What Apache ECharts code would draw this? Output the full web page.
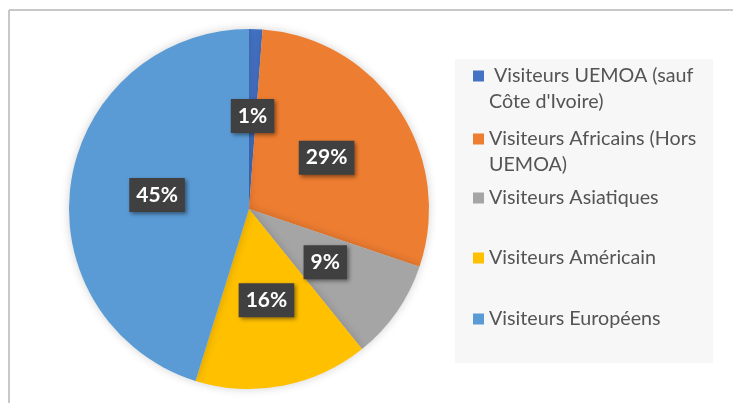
<!DOCTYPE html>
<html style="height: 100%">
<head>
	<meta charset="utf-8">
</head>
<body style="height: 100%; margin: 0; background: #fff">
<div id="container" style="height: 100%"></div>
<script type="text/javascript" src="https://cdn.jsdelivr.net/npm/echarts@6/dist/echarts.min.js"></script>
<script type="text/javascript">
    var categories = [
        " Visiteurs UEMOA (sauf\nCôte d'Ivoire)",
        "Visiteurs Africains (Hors\nUEMOA)",
        "Visiteurs Asiatiques",
        "Visiteurs Américain",
        "Visiteurs Européens"
    ];
    var shares = [1.2, 29.0, 9.0, 15.6, 45.2];
    var colors = ['#4472C4', '#ED7D31', '#A5A5A5', '#FFC000', '#5B9BD5'];

    var dom = document.getElementById("container");
    var myChart = echarts.init(dom);

    var fontFam = 'Lato, "Noto Sans", sans-serif';
    var lineH = 26;
    // icon centre (y) of each legend entry
    var legendY = [76, 139, 198, 258, 319];

    var legends = categories.map(function (name, i) {
        var lines = name.split('\n').length;
        var h = 11 + (lines - 1) * lineH;
        // square sits on the first text line; the tiny dot stretches the icon box
        var icon = 'path://M0,0h11v11h-11zM0,' + (h - 0.1) + 'h0.1v0.1h-0.1z';
        return {
            orient: 'vertical',
            left: 473,
            top: legendY[i] - 13,
            padding: 0,
            itemWidth: 11,
            itemHeight: h,
            icon: icon,
            selectedMode: false,
            data: [name],
            textStyle: {
                fontFamily: fontFam,
                fontSize: 19.7,
                color: '#545454',
                lineHeight: lineH
            }
        };
    });

    var option = {
        backgroundColor: '#fff',
        animation: false,
        color: colors,
        graphic: [
            {type: 'rect', left: 455, top: 59, shape: {width: 258, height: 304}, style: {fill: '#f7f7f7'}, z: -10},
            {type: 'line', shape: {x1: 9, y1: 10, x2: 733, y2: 10}, style: {stroke: '#c8c8c8', lineWidth: 2}},
            {type: 'line', shape: {x1: 9, y1: 10, x2: 9, y2: 403}, style: {stroke: '#c8c8c8', lineWidth: 2}}
        ],
        legend: legends,
        series: [
            {
                type: 'pie',
                center: [249, 209],
                radius: [0, 180],
                startAngle: 90,
                clockwise: true,
                itemStyle: {
                    shadowBlur: 10,
                    shadowColor: 'rgba(0,0,0,0.18)'
                },
                label: {
                    position: 'inside',
                    formatter: function (p) { return Math.round(p.percent) + '%'; },
                    fontFamily: fontFam,
                    fontWeight: 'bold',
                    fontSize: 21,
                    color: '#fff',
                    backgroundColor: '#404040',
                    padding: [7, 7, 6, 7],
                    shadowColor: 'rgba(0,0,0,0.45)',
                    shadowBlur: 4,
                    shadowOffsetX: 2,
                    shadowOffsetY: 2
                },
                labelLine: {show: false},
                emphasis: {disabled: true},
                data: categories.map(function (c, i) {
                    return {name: c, value: shares[i]};
                })
            }
        ]
    };

    myChart.setOption(option);
    window.addEventListener('resize', function () {
        myChart.resize();
    });
</script>
</body>
</html>
